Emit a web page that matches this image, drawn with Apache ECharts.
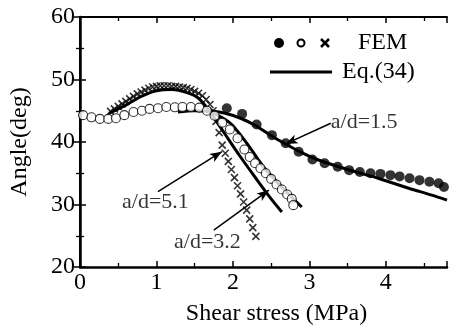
<!DOCTYPE html>
<html>
<head>
<meta charset="utf-8">
<script src="https://cdn.jsdelivr.net/npm/echarts@6/dist/echarts.min.js"></script>
<style>
  html, body { margin: 0; padding: 0; background: #fff; }
  #chart { width: 450px; height: 331px; }
</style>
</head>
<body>
<div id="chart"></div>
<script>
// FEM results, a/d = 1.5 (filled circles)
const femSolid = [
  [1.92, 45.4], [2.12, 44.5], [2.31, 42.8], [2.51, 41.1], [2.69, 39.8],
  [2.86, 38.45], [3.04, 37.2], [3.20, 36.6], [3.37, 36.05], [3.52, 35.5],
  [3.66, 35.2], [3.80, 35.0], [3.93, 34.9], [4.06, 34.7], [4.18, 34.5],
  [4.31, 34.2], [4.44, 33.9], [4.57, 33.65], [4.69, 33.4], [4.76, 32.8]
];
// FEM results, open circles
const femOpen = [
  [0.04, 44.3], [0.15, 43.95], [0.26, 43.7], [0.37, 43.7], [0.47, 43.8],
  [0.58, 44.3], [0.70, 44.8], [0.81, 45.0], [0.91, 45.3], [1.02, 45.4],
  [1.13, 45.6], [1.24, 45.55], [1.34, 45.6], [1.45, 45.6], [1.56, 45.5],
  [1.66, 45.0], [1.76, 44.2], [1.86, 43.1], [1.96, 42.0], [2.06, 40.6],
  [2.15, 38.8], [2.22, 37.6], [2.29, 36.6], [2.36, 35.8], [2.43, 35.0],
  [2.50, 34.1], [2.57, 33.2], [2.64, 32.4], [2.71, 31.6], [2.77, 30.9],
  [2.79, 29.9]
];
// FEM results, crosses
const femCross = [
  [0.40, 44.9], [0.45, 45.3], [0.50, 45.7], [0.55, 46.1], [0.60, 46.5],
  [0.65, 46.9], [0.70, 47.3], [0.75, 47.7], [0.80, 48.0], [0.85, 48.3],
  [0.90, 48.6], [0.95, 48.8], [1.00, 48.9], [1.05, 49.0], [1.10, 49.0],
  [1.15, 49.0], [1.20, 48.9], [1.25, 48.9], [1.30, 48.8], [1.35, 48.7],
  [1.40, 48.6], [1.45, 48.4], [1.50, 48.1], [1.55, 47.8], [1.60, 47.4],
  [1.65, 46.8], [1.70, 46.0], [1.74, 45.0], [1.78, 43.3], [1.82, 41.5],
  [1.86, 39.5], [1.90, 38.2], [1.94, 36.9], [1.98, 35.6], [2.02, 34.3],
  [2.06, 33.0], [2.10, 31.7], [2.14, 30.4], [2.18, 29.1], [2.22, 27.7],
  [2.26, 26.3], [2.30, 24.9]
];
// Eq.(34) curves
const eqA = [ // a/d = 1.5
  [1.70, 45.0], [1.90, 44.6], [2.10, 43.8], [2.30, 42.6], [2.50, 41.0],
  [2.70, 39.6], [2.90, 38.3], [3.10, 37.2], [3.50, 35.6], [3.90, 34.2],
  [4.30, 32.6], [4.60, 31.5], [4.80, 30.7]
];
const eqB = [ // right curve along open circles
  [1.28, 44.8], [1.50, 45.0], [1.70, 44.8], [1.90, 43.6], [2.00, 42.6],
  [2.20, 39.5], [2.40, 36.0], [2.60, 33.3], [2.75, 31.4], [2.90, 29.6]
];
const eqC = [ // left curve through the cross hump
  [0.38, 44.6], [0.60, 45.9], [0.80, 47.3], [1.00, 48.2], [1.20, 48.4],
  [1.40, 47.9], [1.55, 47.0], [1.70, 44.8], [1.90, 41.2], [2.10, 37.6],
  [2.30, 34.2], [2.50, 30.9], [2.64, 28.8]
];
// annotations: text position and arrow [from, to]
const notes = [
  { text: "a/d=1.5", at: [3.28, 43.2], arrow: [[3.28, 43.0], [2.69, 39.7]] },
  { text: "a/d=5.1", at: [0.55, 30.4], arrow: [[1.02, 32.05], [1.855, 38.45]] },
  { text: "a/d=3.2", at: [1.23, 24.0], arrow: [[1.75, 25.9], [2.47, 32.3]] }
];

const FONT = "'Liberation Serif', 'Times New Roman', serif";
const chart = echarts.init(document.getElementById("chart"));

const baseAxis = {
  min: 0, max: 4.8, interval: 1,
  axisLine: { show: true, lineStyle: { color: "#000", width: 2.5 } },
  axisTick: { show: true, inside: true, length: 6, lineStyle: { color: "#000", width: 1.5 } },
  minorTick: { show: true, splitNumber: 2, length: 4, lineStyle: { color: "#000", width: 1.3 } },
  splitLine: { show: false }
};

const crossSym = "path://M0,0L10,10M10,0L0,10";

chart.setOption({
  animation: false,
  backgroundColor: "#fff",
  grid: { left: 77, top: 17, right: 0, bottom: 64 },
  xAxis: [
    Object.assign({}, baseAxis, {
      type: "value", position: "bottom",
      name: "Shear stress (MPa)", nameLocation: "middle", nameGap: 35,
      nameTextStyle: { fontFamily: FONT, fontSize: 24, color: "#000", padding: [0, 0, 0, 26] },
      axisLabel: {
        margin: 4, fontFamily: FONT, fontSize: 24, color: "#000",
        formatter: v => (Number.isInteger(v) ? String(v) : "")
      }
    }),
    Object.assign({}, baseAxis, {
      type: "value", position: "top",
      axisLine: { show: true, lineStyle: { color: "#000", width: 2 } },
      axisLabel: { show: false }
    })
  ],
  yAxis: [
    Object.assign({}, baseAxis, {
      type: "value", min: 20, max: 60, interval: 10, position: "left",
      name: "Angle(deg)", nameLocation: "middle", nameGap: 48,
      nameTextStyle: { fontFamily: FONT, fontSize: 24, color: "#000" },
      axisLabel: { margin: 5, fontFamily: FONT, fontSize: 24, color: "#000" }
    }),
    Object.assign({}, baseAxis, {
      type: "value", min: 20, max: 60, interval: 10, position: "right",
      axisLine: { show: true, lineStyle: { color: "#000", width: 2 } },
      axisLabel: { show: false }
    })
  ],
  graphic: [
    { type: "circle", shape: { cx: 279, cy: 43, r: 5 }, style: { fill: "#000" } },
    { type: "circle", shape: { cx: 301, cy: 43, r: 3.5 }, style: { fill: "#fff", stroke: "#000", lineWidth: 2 } },
    { type: "line", shape: { x1: 321, y1: 39, x2: 329, y2: 47 }, style: { stroke: "#000", lineWidth: 2.5 } },
    { type: "line", shape: { x1: 329, y1: 39, x2: 321, y2: 47 }, style: { stroke: "#000", lineWidth: 2.5 } },
    { type: "text", x: 358, y: 43, style: { text: "FEM", font: "24px " + FONT, fill: "#000", verticalAlign: "middle" } },
    { type: "line", shape: { x1: 270, y1: 72, x2: 332, y2: 72 }, style: { stroke: "#000", lineWidth: 3 } },
    { type: "text", x: 342, y: 72, style: { text: "Eq.(34)", font: "24px " + FONT, fill: "#000", verticalAlign: "middle" } }
  ],
  series: [
    {
      type: "scatter", data: femCross, symbol: crossSym, symbolSize: 7,
      itemStyle: { color: "none", borderColor: "#000", borderWidth: 1.6 }, z: 3
    },
    {
      type: "line", data: eqC, showSymbol: false, smooth: 0.3,
      lineStyle: { color: "#000", width: 3 }, z: 4
    },
    {
      type: "line", data: eqB, showSymbol: false, smooth: 0.3,
      lineStyle: { color: "#000", width: 3 }, z: 4
    },
    {
      type: "scatter", data: femOpen, symbol: "circle", symbolSize: 9,
      itemStyle: { color: "#fff", borderColor: "#000", borderWidth: 1.1 }, z: 5
    },
    {
      type: "line", data: eqA, showSymbol: false, smooth: 0.3,
      lineStyle: { color: "#000", width: 3 }, z: 4
    },
    {
      type: "scatter", data: femSolid, symbol: "circle", symbolSize: 10,
      itemStyle: { color: "#000" }, z: 5
    },
    {
      type: "scatter", data: notes.map(n => ({ value: n.at, name: n.text })),
      symbolSize: 0, z: 6,
      label: {
        show: true, position: "right", distance: 0, formatter: p => p.name,
        fontFamily: FONT, fontSize: 22, color: "#000"
      },
      markLine: {
        silent: true, symbol: ["none", "arrow"], symbolSize: [7, 12],
        label: { show: false },
        lineStyle: { color: "#000", width: 1.5, type: "solid" },
        data: notes.map(n => [{ coord: n.arrow[0] }, { coord: n.arrow[1] }])
      }
    }
  ]
});
</script>
</body>
</html>
